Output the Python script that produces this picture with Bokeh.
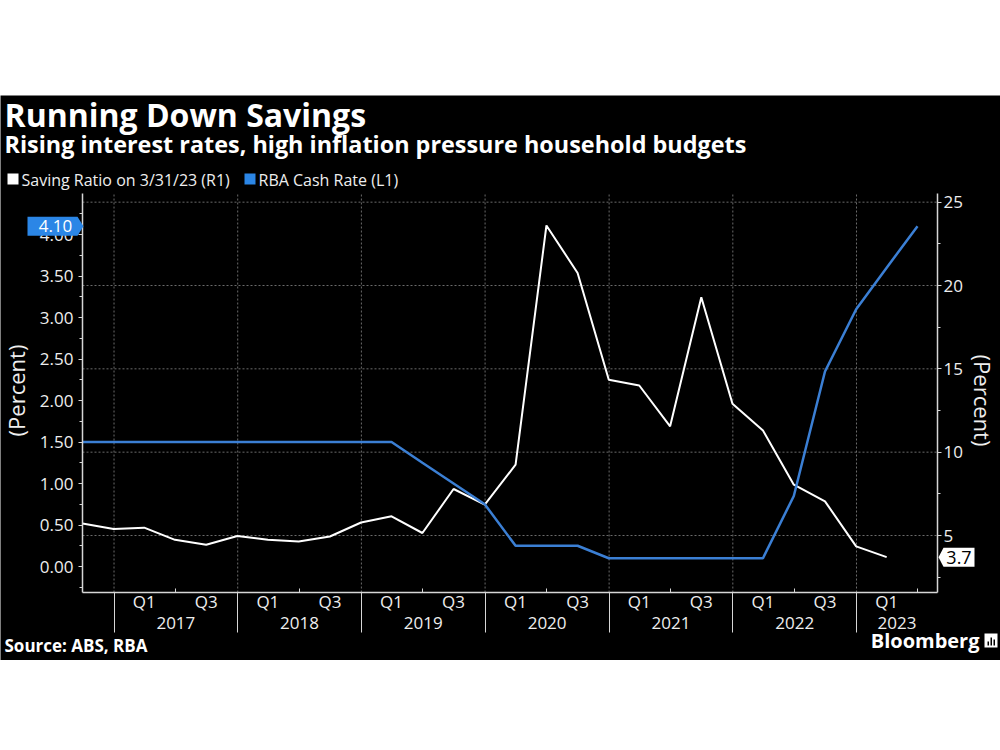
import math
import pandas as pd
from bokeh.plotting import figure
from bokeh.models import (LinearAxis, Range1d, FixedTicker, Label, PolyAnnotation,
                          Spacer, NumeralTickFormatter)
from bokeh.layouts import column
from bokeh.embed import file_html
from bokeh.resources import INLINE

# ---------------- data ----------------
sr_quarters = ["2016Q3", "2016Q4", "2017Q1", "2017Q2", "2017Q3", "2017Q4",
               "2018Q1", "2018Q2", "2018Q3", "2018Q4", "2019Q1", "2019Q2",
               "2019Q3", "2019Q4", "2020Q1", "2020Q2", "2020Q3", "2020Q4",
               "2021Q1", "2021Q2", "2021Q3", "2021Q4", "2022Q1", "2022Q2",
               "2022Q3", "2022Q4", "2023Q1"]
saving_ratio = [5.72, 5.39, 5.47, 4.74, 4.44, 4.97, 4.74, 4.64, 4.94, 5.78,
                6.15, 5.15, 7.79, 6.85, 9.25, 23.6, 20.75, 14.35, 14.0, 11.55,
                19.3, 12.9, 11.3, 8.05, 7.05, 4.35, 3.7]

cr_quarters = ["2016Q3", "2016Q4", "2017Q1", "2017Q2", "2017Q3", "2017Q4",
               "2018Q1", "2018Q2", "2018Q3", "2018Q4", "2019Q1", "2019Q2",
               "2019Q3", "2019Q4", "2020Q1", "2020Q2", "2020Q3", "2020Q4",
               "2021Q1", "2021Q2", "2021Q3", "2021Q4", "2022Q1", "2022Q2",
               "2022Q3", "2022Q4", "2023Q1", "2023Q2"]
cash_rate = [1.50, 1.50, 1.50, 1.50, 1.50, 1.50, 1.50, 1.50, 1.50, 1.50,
             1.50, 1.25, 1.00, 0.75, 0.25, 0.25, 0.25, 0.10, 0.10, 0.10,
             0.10, 0.10, 0.10, 0.85, 2.35, 3.10, 3.60, 4.10]

years = [2017, 2018, 2019, 2020, 2021, 2022, 2023]
quarter_labels = ["Q1", "Q3"]
left_ticks = [0.0, 0.5, 1.0, 1.5, 2.0, 2.5, 3.0, 3.5, 4.0]
left_minor = [-0.25, 0.25, 0.75, 1.25, 1.75, 2.25, 2.75, 3.25, 3.75, 4.25]
right_ticks = [5, 10, 15, 20, 25]
right_minor = [2.5, 7.5, 12.5, 17.5, 22.5]

title_text = "Running Down Savings"
subtitle_text = "Rising interest rates, high inflation pressure household budgets"
legend_labels = ["Saving Ratio on 3/31/23 (R1)", "RBA Cash Rate (L1)"]
source_text = "Source: ABS, RBA"
brand_text = "Bloomberg"
axis_title = "(Percent)"
x_end_date = "2023-08-28"
L_RANGE = (-0.313, 4.494)
R_RANGE = (1.58, 25.52)

# ---------------- helpers ----------------
EPOCH = pd.Timestamp("1970-01-01")


def ms(ts):
    return (pd.Timestamp(ts) - EPOCH) / pd.Timedelta(milliseconds=1)


def q_end(q):
    return pd.Period(q, freq="Q").end_time.normalize()


sr_x = [ms(q_end(q)) for q in sr_quarters]
cr_x = [ms(q_end(q)) for q in cr_quarters]
x_start = sr_x[0]
x_end = ms(x_end_date)

year_starts = [ms(f"{y}-01-01") for y in years]
mid_years = [ms(f"{y}-07-01") for y in years]
q_ticks, q_over = [], {}
for y in years:
    for lab in quarter_labels:
        t = ms(q_end(f"{y}{lab}"))
        if x_start < t < x_end:
            q_ticks.append(t)
            q_over[t] = lab
year_centers, year_over = [], {}
for y in years:
    a = max(x_start, ms(f"{y}-01-01"))
    b = min(x_end, ms(f"{y + 1}-01-01"))
    c = (a + b) / 2
    year_centers.append(c)
    year_over[c] = str(y)

# ---------------- layout (page pixels) ----------------
W = 1000
CANVAS_TOP = 83          # canvas starts a little above the black band
BLACK_TOP = 95           # black band starts here (white above)
CANVAS_BOTTOM = 660
H = CANVAS_BOTTOM - CANVAS_TOP
PX_L, PX_R, PX_T, PX_B = 82, 937, 193, 592
FRAME_W = PX_R - PX_L
FRAME_H = PX_B - PX_T
kx = (x_end - x_start) / FRAME_W
ml = (L_RANGE[1] - L_RANGE[0]) / FRAME_H
mr = (R_RANGE[1] - R_RANGE[0]) / FRAME_H
pad_b = CANVAS_BOTTOM - PX_B
pad_t = PX_T - CANVAS_TOP
DESC = 0.33  # text drawn with 'alphabetic' lands at the descent line


def sy(page_y):
    return CANVAS_BOTTOM - page_y


def base(page_baseline, size):
    return sy(page_baseline - DESC * size)


def right_to_left(v):
    return L_RANGE[0] + (v - R_RANGE[0]) * ml / mr


FONT = "Open Sans"
BLUE_LINE = "#3b7fd4"
BLUE_TAG = "#2b86e6"
AX = "#d6d6d6"
TXT = "#eeeeee"
GRID = "#6a6a6a"

p = figure(width=W, height=H,
           x_range=Range1d(x_start - PX_L * kx, x_end + (W - PX_R) * kx),
           y_range=Range1d(L_RANGE[0] - pad_b * ml, L_RANGE[1] + pad_t * ml),
           x_axis_type=None, y_axis_type=None,
           output_backend="svg", toolbar_location=None,
           background_fill_color="white", border_fill_color="white",
           outline_line_color=None, min_border=0,
           min_border_left=0, min_border_right=0, min_border_top=0, min_border_bottom=0)
p.extra_y_ranges = {"right": Range1d(R_RANGE[0] - pad_b * mr, R_RANGE[1] + pad_t * mr)}

# black chart band
p.add_layout(PolyAnnotation(xs=[-2, W + 2, W + 2, -2],
                            ys=[sy(BLACK_TOP), sy(BLACK_TOP), -2, -2],
                            xs_units="screen", ys_units="screen", level="underlay",
                            fill_color="black", fill_alpha=1, line_color=None))


def style_axis(ax, size="17px"):
    ax.axis_line_color = AX
    ax.axis_line_width = 1.5
    ax.major_tick_line_color = AX
    ax.minor_tick_line_color = AX
    ax.major_label_text_color = TXT
    ax.major_label_text_font = FONT
    ax.major_label_text_font_size = size


# left axis
lax = LinearAxis(fixed_location=x_start, bounds=L_RANGE,
                 ticker=FixedTicker(ticks=left_ticks, minor_ticks=left_minor),
                 formatter=NumeralTickFormatter(format="0.00"))
style_axis(lax)
lax.major_tick_in = 0
lax.major_tick_out = 4
lax.minor_tick_in = 0
lax.minor_tick_out = 3
lax.major_label_standoff = 5
p.add_layout(lax, "left")

# right axis
rax = LinearAxis(y_range_name="right", fixed_location=x_end, bounds=R_RANGE,
                 ticker=FixedTicker(ticks=right_ticks, minor_ticks=right_minor))
style_axis(rax)
rax.major_tick_in = 0
rax.major_tick_out = 4
rax.minor_tick_in = 0
rax.minor_tick_out = 3
rax.major_label_standoff = 2
p.add_layout(rax, "right")

# bottom: quarter labels
qax = LinearAxis(fixed_location=L_RANGE[0], bounds=(x_start, x_end),
                 ticker=FixedTicker(ticks=q_ticks, minor_ticks=mid_years),
                 major_label_overrides=q_over)
style_axis(qax)
qax.major_tick_in = 0
qax.major_tick_out = 0
qax.minor_tick_in = 4
qax.minor_tick_out = 0
qax.major_label_standoff = -3
p.add_layout(qax, "below")

# bottom: year labels
yax = LinearAxis(fixed_location=L_RANGE[0], bounds=(x_start, x_end),
                 ticker=FixedTicker(ticks=year_centers, minor_ticks=[]),
                 major_label_overrides=year_over)
style_axis(yax)
yax.axis_line_color = None
yax.major_tick_line_color = None
yax.minor_tick_line_color = None
yax.major_tick_in = 0
yax.major_tick_out = 0
yax.major_label_standoff = 24
p.add_layout(yax, "below")

# bottom: year separators
sax = LinearAxis(fixed_location=L_RANGE[0], bounds=(x_start, x_end),
                 ticker=FixedTicker(ticks=year_starts, minor_ticks=[]),
                 major_label_overrides={t: "" for t in year_starts})
style_axis(sax, size="1px")
sax.axis_line_color = None
sax.minor_tick_line_color = None
sax.major_tick_in = 0
sax.major_tick_out = 40
p.add_layout(sax, "below")

# axis titles
p.add_layout(Label(x=15, y=sy(390), x_units="screen", y_units="screen", text=axis_title,
                   angle=math.pi / 2, text_align="center", text_baseline="middle",
                   text_color=TXT, text_font=FONT, text_font_size="22px"))
p.add_layout(Label(x=982, y=sy(400), x_units="screen", y_units="screen", text=axis_title,
                   angle=-math.pi / 2, text_align="center", text_baseline="middle",
                   text_color=TXT, text_font=FONT, text_font_size="22px"))

# grid lines
p.segment(x0=[x_start] * len(right_ticks), x1=[x_end] * len(right_ticks),
          y0=right_ticks, y1=right_ticks, y_range_name="right",
          line_color=GRID, line_dash="2 2", line_width=1)
p.segment(x0=year_starts, x1=year_starts,
          y0=[L_RANGE[0]] * len(year_starts), y1=[L_RANGE[1]] * len(year_starts),
          line_color=GRID, line_dash="2 2", line_width=1)

# series
p.line(sr_x, saving_ratio, y_range_name="right", line_color="white", line_width=2)
p.line(cr_x, cash_rate, line_color=BLUE_LINE, line_width=2.5)

# value tags (last values of each series)
lv = cash_rate[-1]
rv = saving_ratio[-1]
rv_l = right_to_left(rv)
hh = 9.5 * ml
p.add_layout(PolyAnnotation(xs=[27, 77, 83, 77, 27],
                            ys=[lv + hh, lv + hh, lv, lv - hh, lv - hh],
                            xs_units="screen", ys_units="data",
                            fill_color=BLUE_TAG, fill_alpha=1, line_color=None))
p.add_layout(Label(x=55, y=lv, x_units="screen", y_units="data", text=f"{lv:.2f}",
                   text_align="center", text_baseline="middle", text_color="white",
                   text_font=FONT, text_font_size="17px"))
p.add_layout(PolyAnnotation(xs=[938, 943, 974, 974, 943],
                            ys=[rv_l, rv_l + hh, rv_l + hh, rv_l - hh, rv_l - hh],
                            xs_units="screen", ys_units="data",
                            fill_color="white", fill_alpha=1, line_color=None))
p.add_layout(Label(x=958.5, y=rv_l, x_units="screen", y_units="data",
                   text=f"{rv:.1f}", text_align="center", text_baseline="middle",
                   text_color="black", text_font=FONT, text_font_size="18px"))

# header
p.add_layout(Label(x=4, y=base(125, 32), x_units="screen", y_units="screen", text=title_text,
                   text_color="white", text_font=FONT, text_font_size="32px",
                   text_font_style="bold", text_baseline="alphabetic"))
p.add_layout(Label(x=4, y=base(151.5, 23.4), x_units="screen", y_units="screen",
                   text=subtitle_text, text_color="white", text_font=FONT,
                   text_font_size="23.4px", text_font_style="bold", text_baseline="alphabetic"))
for (x0, x1), col, lab, tx in [((7, 18), "white", legend_labels[0], 21),
                               ((244, 255), BLUE_TAG, legend_labels[1], 258)]:
    p.add_layout(PolyAnnotation(xs=[x0, x1, x1, x0], ys=[sy(173), sy(173), sy(184), sy(184)],
                                xs_units="screen", ys_units="screen",
                                fill_color=col, fill_alpha=1, line_color=None))
    p.add_layout(Label(x=tx, y=base(184.5, 16), x_units="screen", y_units="screen", text=lab,
                       text_color=TXT, text_font=FONT, text_font_size="16px",
                       text_baseline="alphabetic"))

# footer
p.add_layout(Label(x=4, y=base(650.5, 17), x_units="screen", y_units="screen", text=source_text,
                   text_color="white", text_font=FONT, text_font_size="17px",
                   text_font_style="bold", text_baseline="alphabetic"))
p.add_layout(Label(x=979, y=base(647, 20), x_units="screen", y_units="screen", text=brand_text,
                   text_color="white", text_font=FONT, text_font_size="20px",
                   text_font_style="bold", text_baseline="alphabetic", text_align="right"))
p.add_layout(PolyAnnotation(xs=[984, 997, 997, 984], ys=[sy(633), sy(633), sy(647), sy(647)],
                            xs_units="screen", ys_units="screen",
                            fill_color="white", fill_alpha=1, line_color=None))
for bx, top in [(987, 641), (990, 637), (993, 639)]:
    p.add_layout(PolyAnnotation(xs=[bx, bx + 1.5, bx + 1.5, bx], ys=[sy(top), sy(top), sy(645), sy(645)],
                                xs_units="screen", ys_units="screen",
                                fill_color="black", fill_alpha=1, line_color=None))

layout = column(Spacer(width=W, height=CANVAS_TOP), p)
open("out.html", "w").write(file_html(layout, INLINE))
